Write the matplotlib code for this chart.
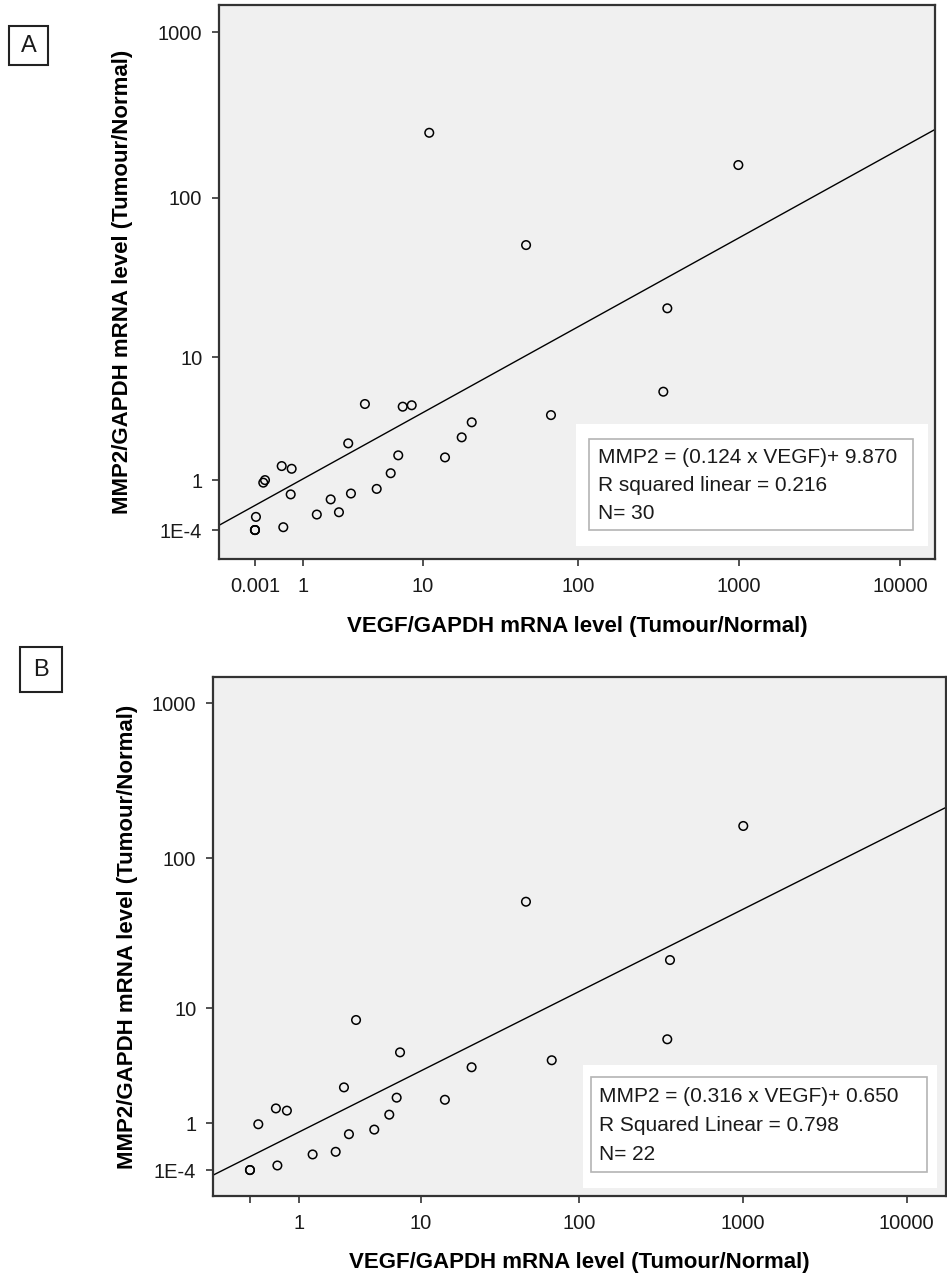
import matplotlib.pyplot as plt
from matplotlib.patches import Rectangle
import numpy as np

plt.rcParams['font.family'] = ['Liberation Sans', 'DejaVu Sans']

# panel A: all tumours (N=30)
vegf_a = [3.81, 7.25, 8.38, 67.5, 21.1, 2.79, 18.15, 6.74, 14.09, 0.466,
          0.69, 0.155, 0.127, 5.95, 4.69, 0.667, 2.94, 1.95, 2.32, 1.42,
          0.015, 0.001, 0.001, 0.001, 0.50, 11.05, 993, 47.0, 359.6, 339.6]
mmp2_a = [4.75, 4.54, 4.65, 3.93, 3.46, 2.33, 2.62, 1.82, 1.74, 1.43,
          1.34, 1.00, 0.93, 1.20, 0.77, 0.64, 0.66, 0.53, 0.28, 0.24,
          0.20, 0.0001, 0.0001, 0.0001, 0.04, 247, 157.5, 51.2, 20.7, 5.82]
# panel B: N=22
vegf_b = [3.43, 7.21, 67.9, 21.4, 2.74, 6.83, 14.4, 0.44, 0.68, 6.06, 0.125,
          4.72, 3.01, 2.33, 1.41, 0.47, 0.001, 0.001, 1010, 47.0, 360.8, 347.3]
mmp2_b = [8.22, 4.71, 4.08, 3.58, 2.40, 1.92, 1.83, 1.49, 1.41, 1.27, 0.97,
          0.82, 0.70, 0.31, 0.26, 0.07, 0.0001, 0.0001, 162, 52.1, 21.4, 5.93]

# fitted line on the log10(value + 1) axes: (intercept, slope)
fit_a = (0.148, 0.5375)
fit_b = (0.086, 0.5297)

x_ticks = [0.001, 1, 10, 100, 1000, 10000]
x_labels_a = ['0.001', '1', '10', '100', '1000', '10000']
x_labels_b = ['', '1', '10', '100', '1000', '10000']
y_ticks = [0.0001, 1, 10, 100, 1000]
y_labels = ['1E-4', '1', '10', '100', '1000']

text_a = ['MMP2 = (0.124 x VEGF)+ 9.870', 'R squared linear = 0.216', 'N= 30']
text_b = ['MMP2 = (0.316 x VEGF)+ 0.650', 'R Squared Linear = 0.798', 'N= 22']


def fwd(v):
    return np.log10(np.clip(np.asarray(v, dtype=float) + 1, 1e-12, None))


def inv(u):
    return 10 ** np.asarray(u, dtype=float) - 1


fig = plt.figure(figsize=(9.47, 12.76), dpi=100)
W, H = 947, 1276


def px_axes(l, t, r, b):
    return [l / W, 1 - b / H, (r - l) / W, (b - t) / H]


def draw_panel(ax, vegf, mmp2, fit, xlim, ylim, xlabels, lines,
               outer, inner, text_x, text_y, xlab_y, ylab_x):
    ax.set_xscale('function', functions=(fwd, inv))
    ax.set_yscale('function', functions=(fwd, inv))
    ax.set_facecolor('#f0f0f0')
    ax.set_xlim(*xlim)
    ax.set_ylim(*ylim)

    ax.scatter(vegf, mmp2, s=38, facecolors='none', edgecolors='black',
               linewidths=1.1, zorder=3)

    u = np.linspace(fwd(xlim[0]), fwd(xlim[1]), 100)
    ax.plot(inv(u), inv(fit[0] + fit[1] * u), color='black', lw=1.0, zorder=2)

    ax.set_xticks(x_ticks)
    ax.set_xticklabels(xlabels)
    ax.set_yticks(y_ticks)
    ax.set_yticklabels(y_labels)
    ax.minorticks_off()
    ax.tick_params(direction='out', length=5, width=1.2, color='#333333',
                   labelsize=14.5, labelcolor='#1a1a1a')
    ax.tick_params(axis='x', pad=8)
    ax.tick_params(axis='y', pad=7)
    for s in ax.spines.values():
        s.set_color('#333333')
        s.set_linewidth(1.6)

    ax.set_xlabel('VEGF/GAPDH mRNA level (Tumour/Normal)', fontsize=16,
                  fontweight='bold')
    ax.set_ylabel('MMP2/GAPDH mRNA level (Tumour/Normal)', fontsize=16,
                  fontweight='bold')
    ax.xaxis.set_label_coords(0.5, xlab_y)
    ax.yaxis.set_label_coords(ylab_x, 0.5)
    ax.xaxis.label.set_va('center')
    ax.yaxis.label.set_va('center')

    # annotation box with the fit summary
    ax.add_patch(Rectangle((outer[0], outer[1]), outer[2] - outer[0],
                           outer[3] - outer[1], transform=ax.transAxes,
                           facecolor='white', edgecolor='none', zorder=4))
    ax.add_patch(Rectangle((inner[0], inner[1]), inner[2] - inner[0],
                           inner[3] - inner[1], transform=ax.transAxes,
                           facecolor='white', edgecolor='#b4b4b4', lw=1.2,
                           zorder=5))
    for line, ty in zip(lines, text_y):
        ax.text(text_x, ty, line, transform=ax.transAxes, fontsize=15,
                va='center', ha='left', color='#1a1a1a', zorder=6)


ax_a = fig.add_axes(px_axes(219, 5, 935, 559))
draw_panel(ax_a, vegf_a, mmp2_a, fit_a, (-0.401, 16468), (-0.331, 1460),
           x_labels_a, text_a,
           (0.4986, 0.0235, 0.9902, 0.2437), (0.5168, 0.0523, 0.9693, 0.2166),
           0.5293, (0.1841, 0.1318, 0.0830), -0.1227, -0.1341)

ax_b = fig.add_axes(px_axes(213, 677, 946, 1196))
draw_panel(ax_b, vegf_b, mmp2_b, fit_b, (-0.404, 17355), (-0.319, 1478),
           x_labels_b, text_b,
           (0.5048, 0.0154, 0.9877, 0.2524), (0.5157, 0.0462, 0.9741, 0.2293),
           0.5266, (0.1908, 0.1349, 0.0809), -0.1272, -0.1160)

# panel letters in boxes
for letter, (l, t, r, b) in [('A', (9, 26, 48, 65)), ('B', (20, 647, 62, 692))]:
    fig.patches.append(Rectangle((l / W, 1 - b / H), (r - l) / W, (b - t) / H,
                                 transform=fig.transFigure, facecolor='white',
                                 edgecolor='#222222', lw=1.5))
    fig.text((l + r) / 2 / W, 1 - (t + b) / 2 / H, letter, fontsize=17,
             ha='center', va='center', color='#1a1a1a')

fig.savefig('out.png', dpi=100)
